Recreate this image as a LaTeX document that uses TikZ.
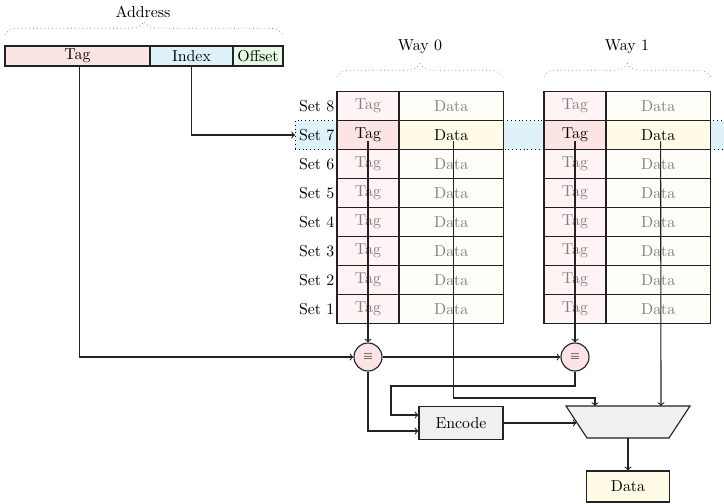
\documentclass[tikz,border=0pt]{standalone}
\usetikzlibrary{decorations.pathreplacing,shapes.geometric,calc}
\definecolor{tagc}{HTML}{FDE4E4}
\definecolor{tagl}{HTML}{FFF4F4}
\definecolor{idxc}{HTML}{DFF2FA}
\definecolor{offc}{HTML}{E6FBE6}
\definecolor{datc}{HTML}{FFFBE6}
\definecolor{datl}{HTML}{FFFDF7}
\definecolor{grayfill}{HTML}{F0F0F0}
\definecolor{dimtext}{HTML}{808080}
\definecolor{linec}{HTML}{222222}
\def\u{0.63pt}
\begin{document}
\begin{tikzpicture}[x=0.63pt,y=-0.63pt,
  lw/.style={line width=0.7pt},
  conn/.style={lw, draw=linec, ->},
  box/.style={draw=linec, lw, anchor=north west, inner sep=0pt, outer sep=0pt},
  addr/.style={box, minimum height=20*\u},
  tagcell/.style={box, minimum width=62*\u, minimum height=29*\u, fill=tagl, text=dimtext},
  datcell/.style={box, minimum width=104.5*\u, minimum height=29*\u, fill=datl, text=dimtext},
  tagsel/.style={tagcell, fill=tagc, text=black},
  datsel/.style={datcell, fill=datc, text=black},
  setlabel/.style={anchor=east, inner sep=1.5pt},
  cmp/.style={circle, draw=linec, lw, fill=tagc, minimum size=28*\u, inner sep=0pt, font=\scriptsize},
  gbrace/.style={draw=black!60, dotted, decorate, decoration={brace, amplitude=8.5pt}},
  band/.style={draw, dotted, fill=idxc, anchor=north west, minimum width=450*\u, minimum height=29*\u, inner sep=0pt, outer sep=0pt},
  >=to]
\useasboundingbox (0,0) rectangle (724,503);

% highlighted row band
\node[band] (hl) at (295,120.5) {};

% address
\node[addr, minimum width=145*\u, fill=tagc] (atag) at (5,46) {Tag};
\node[addr, minimum width=83*\u, fill=idxc] (aidx) at (150,46) {Index};
\node[addr, minimum width=50*\u, fill=offc] (aoff) at (233,46) {Offset};
\draw[gbrace] (5,35) -- (283,35);
\node (addrlbl) at (143,12) {Address};

% ways
\draw[gbrace] (337,77) -- (503,77);
\node (w0lbl) at (420,47) {Way 0};
\draw[gbrace] (544,77) -- (711,77);
\node (w1lbl) at (627,47) {Way 1};

\foreach \w/\x in {0/337,1/544}{
  \foreach \r in {1,2,3,4,5,6,8}{
    \pgfmathsetmacro\yy{91.5+(8-\r)*29}
    \node[tagcell] (t\w-\r) at (\x,\yy) {Tag};
    \node[datcell] (d\w-\r) at (\x+62,\yy) {Data};
  }
  \node[tagsel] (t\w-7) at (\x,120.5) {Tag};
  \node[datsel] (d\w-7) at (\x+62,120.5) {Data};
}
\foreach \r in {1,...,8}{
  \node[setlabel] (s\r) at (t0-\r.west) {Set \r};
}

% comparators
\node[cmp] (c0) at (368,357) {$\equiv$};
\node[cmp] (c1) at (575,357) {$\equiv$};

% encoder, mux, output
\node[draw=linec, lw, fill=grayfill, minimum width=84*\u, minimum height=33*\u, inner sep=0pt] (enc) at (461,423) {Encode};
\coordinate (mtl) at (566,406);
\coordinate (mtr) at (690,406);
\coordinate (mbr) at (669,438);
\coordinate (mbl) at (587,438);
\filldraw[lw, draw=linec, fill=grayfill] (mtl) -- (mtr) -- (mbr) -- (mbl) -- cycle;
\coordinate (mux) at ($(mtl)!0.5!(mtr)$);
\coordinate (muxleft) at ($(mtl)!0.5!(mbl)$);
\coordinate (muxout) at ($(mbl)!0.5!(mbr)$);
\node[draw=linec, lw, fill=datc, minimum width=83*\u, minimum height=31*\u, inner sep=0pt] (out) at (628,486.5) {Data};

\coordinate (min0) at ($(mux)+(-33,0)$);
\coordinate (min1) at ($(mux)+(33,0)$);
\coordinate (bend) at (391,386);

% connectors
\draw[conn] ([xshift=1pt]atag.south) |- (c0.west);
\draw[conn] (aidx.south) |- (hl.west);
\draw[conn] (c0.east) -- (c1.west);
\draw[conn] ([yshift=-4pt]t0-7.center) -- (c0.north);
\draw[conn] ([yshift=-4pt]t1-7.center) -- (c1.north);
\draw[conn] ([xshift=1.5pt,yshift=-4pt]d0-7.center) |- ($(min0)+(0,-8)$) -- (min0);
\draw[conn] ([xshift=1.5pt,yshift=-4pt]d1-7.center) -- (min1);
\draw[conn] (c0.south) |- ($(enc.west)+(0,8)$);
\draw[conn] (c1.south) |- (bend) |- ($(enc.west)+(0,-8)$);
\draw[conn] (enc.east) -- (enc.east -| muxleft);
\draw[conn] (muxout) -- (out.north);
\end{tikzpicture}
\end{document}
